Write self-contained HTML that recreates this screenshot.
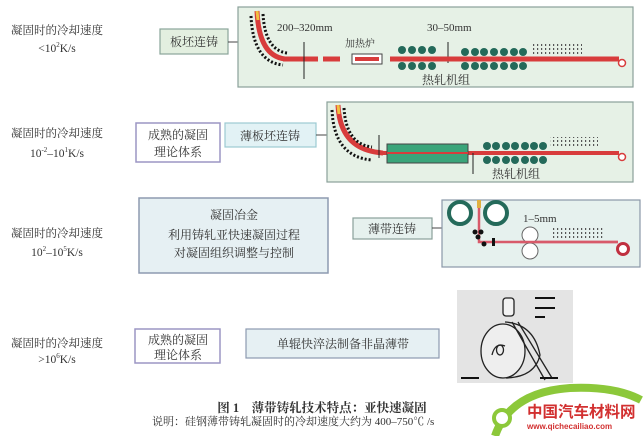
<!DOCTYPE html>
<html><head><meta charset="utf-8"><style>
html,body{margin:0;padding:0;background:#fff;}
svg{display:block;}
text{font-family:"Liberation Serif","Noto Serif CJK SC",serif;fill:#333;}
text.wm{fill:#d23030;font-family:"Liberation Sans","Noto Sans CJK SC",sans-serif;font-weight:bold;}
</style></head><body>
<svg width="643" height="436" viewBox="0 0 643 436" xmlns="http://www.w3.org/2000/svg">
<defs>
<pattern id="hat" width="4" height="4" patternUnits="userSpaceOnUse"><rect x="1" y="0" width="1.2" height="2" fill="#555"/></pattern>
</defs>
<!-- left labels -->
<g font-size="11.5" text-anchor="middle">
<text x="57" y="34">凝固时的冷却速度</text>
<text x="57" y="52">&lt;10<tspan font-size="7" dy="-5">2</tspan><tspan dy="5">K/s</tspan></text>
<text x="57" y="137">凝固时的冷却速度</text>
<text x="57" y="157">10<tspan font-size="7" dy="-5">-2</tspan><tspan dy="5">–10</tspan><tspan font-size="7" dy="-5">1</tspan><tspan dy="5">K/s</tspan></text>
<text x="57" y="237">凝固时的冷却速度</text>
<text x="57" y="256">10<tspan font-size="7" dy="-5">2</tspan><tspan dy="5">–10</tspan><tspan font-size="7" dy="-5">5</tspan><tspan dy="5">K/s</tspan></text>
<text x="57" y="347">凝固时的冷却速度</text>
<text x="57" y="363">&gt;10<tspan font-size="7" dy="-5">6</tspan><tspan dy="5">K/s</tspan></text>
</g>

<!-- Row 1 -->
<rect x="160" y="29" width="68" height="25" fill="#e3efe0" stroke="#8aa59a" stroke-width="1.2"/>
<text x="194" y="46" font-size="12" text-anchor="middle">板坯连铸</text>
<line x1="228" y1="42" x2="238" y2="42" stroke="#444"/>
<rect x="238" y="7" width="395" height="80" fill="#e6f1e6" stroke="#8aa09a" stroke-width="1.2"/>
<path d="M257 11 Q259 56 285 59" fill="none" stroke="#d83c3c" stroke-width="5"/>
<path d="M257 11 L258 20" stroke="#f0c040" stroke-width="3"/>
<path d="M251 16 Q253 62 283 65" fill="none" stroke="#111" stroke-width="3" stroke-dasharray="2 2"/>
<path d="M263 14 Q265 50 287 53" fill="none" stroke="#111" stroke-width="3" stroke-dasharray="2 2"/>
<line x1="283" y1="59" x2="318" y2="59" stroke="#d83c3c" stroke-width="5"/>
<line x1="323" y1="59" x2="340" y2="59" stroke="#d83c3c" stroke-width="5"/>
<rect x="352" y="54" width="30" height="10" fill="#fff" stroke="#444"/>
<line x1="355" y1="59" x2="379" y2="59" stroke="#d83c3c" stroke-width="4"/>
<line x1="304" y1="42" x2="304" y2="79" stroke="#222"/>
<line x1="448" y1="42" x2="448" y2="63" stroke="#222"/>
<text x="277" y="31" font-size="11" font-family="Liberation Sans">200–320mm</text>
<text x="427" y="31" font-size="11" font-family="Liberation Sans">30–50mm</text>
<text x="345" y="47" font-size="10">加热炉</text>
<g fill="#246a5a">
<circle cx="402" cy="50" r="4"/><circle cx="412" cy="50" r="4"/><circle cx="422" cy="50" r="4"/><circle cx="432" cy="50" r="4"/>
<circle cx="402" cy="66" r="4"/><circle cx="412" cy="66" r="4"/><circle cx="422" cy="66" r="4"/><circle cx="432" cy="66" r="4"/>
<circle cx="465" cy="52" r="4"/><circle cx="475" cy="52" r="4"/><circle cx="484" cy="52" r="4"/><circle cx="494" cy="52" r="4"/><circle cx="504" cy="52" r="4"/><circle cx="514" cy="52" r="4"/><circle cx="523" cy="52" r="4"/>
<circle cx="465" cy="66" r="4"/><circle cx="475" cy="66" r="4"/><circle cx="484" cy="66" r="4"/><circle cx="494" cy="66" r="4"/><circle cx="504" cy="66" r="4"/><circle cx="514" cy="66" r="4"/><circle cx="523" cy="66" r="4"/>
</g>
<line x1="390" y1="59" x2="619" y2="59" stroke="#d83c3c" stroke-width="5"/>
<circle cx="622" cy="63" r="3.5" fill="#fff" stroke="#d83c3c" stroke-width="1.5"/>
<rect x="532" y="43" width="50" height="12" fill="url(#hat)"/>
<text x="422" y="84" font-size="12">热轧机组</text>

<!-- Row 2 -->
<rect x="136" y="123" width="84" height="39" fill="#fff" stroke="#9c96c4" stroke-width="1.5"/>
<text x="178" y="139" font-size="12" text-anchor="middle">成熟的凝固</text>
<text x="178" y="156" font-size="12" text-anchor="middle">理论体系</text>
<rect x="225" y="123" width="91" height="24" fill="#e2f2f5" stroke="#9ccad2" stroke-width="1.2"/>
<text x="270" y="140" font-size="12" text-anchor="middle">薄板坯连铸</text>
<line x1="316" y1="135" x2="327" y2="135" stroke="#444"/>
<rect x="327" y="102" width="306" height="80" fill="#e6f1e6" stroke="#8aa09a" stroke-width="1.2"/>
<path d="M338 105 Q340 150 383 153" fill="none" stroke="#d83c3c" stroke-width="5"/>
<path d="M338 105 L339 114" stroke="#f0c040" stroke-width="3"/>
<path d="M332 110 Q334 157 372 160" fill="none" stroke="#111" stroke-width="3" stroke-dasharray="2 2"/>
<path d="M344 108 Q346 144 372 147" fill="none" stroke="#111" stroke-width="3" stroke-dasharray="2 2"/>
<line x1="380" y1="153" x2="619" y2="153" stroke="#d83c3c" stroke-width="4"/>
<circle cx="622" cy="157" r="3.5" fill="#fff" stroke="#d83c3c" stroke-width="1.5"/>
<rect x="387" y="144" width="81" height="19" fill="#3aa57a" stroke="#444"/>
<line x1="387" y1="153" x2="468" y2="153" stroke="#d83c3c" stroke-width="2"/>
<line x1="379" y1="135" x2="379" y2="158" stroke="#222"/>
<line x1="473" y1="153" x2="473" y2="174" stroke="#222"/>
<g fill="#246a5a">
<circle cx="487" cy="146" r="4"/><circle cx="496" cy="146" r="4"/><circle cx="506" cy="146" r="4"/><circle cx="515" cy="146" r="4"/><circle cx="525" cy="146" r="4"/><circle cx="534" cy="146" r="4"/><circle cx="543" cy="146" r="4"/>
<circle cx="487" cy="160" r="4"/><circle cx="496" cy="160" r="4"/><circle cx="506" cy="160" r="4"/><circle cx="515" cy="160" r="4"/><circle cx="525" cy="160" r="4"/><circle cx="534" cy="160" r="4"/><circle cx="543" cy="160" r="4"/>
</g>
<line x1="483" y1="153" x2="547" y2="153" stroke="#d83c3c" stroke-width="4"/>
<rect x="550" y="137" width="48" height="11" fill="url(#hat)"/>
<text x="492" y="178" font-size="12">热轧机组</text>

<!-- Row 3 -->
<rect x="139" y="198" width="189" height="75" fill="#e6f0f3" stroke="#8d9ab0" stroke-width="1.5"/>
<g font-size="12" text-anchor="middle">
<text x="234" y="219">凝固冶金</text>
<text x="234" y="239">利用铸轧亚快速凝固过程</text>
<text x="234" y="257">对凝固组织调整与控制</text>
</g>
<rect x="353" y="218" width="79" height="21" fill="#e6f1ee" stroke="#8aa09a" stroke-width="1.2"/>
<text x="392" y="233" font-size="12" text-anchor="middle">薄带连铸</text>
<line x1="432" y1="228" x2="442" y2="228" stroke="#444"/>
<rect x="442" y="200" width="198" height="67" fill="#e6f1ee" stroke="#8a98a8" stroke-width="1.2"/>
<circle cx="460" cy="213" r="11" fill="#fff" stroke="#246a5a" stroke-width="4"/>
<circle cx="496" cy="213" r="11" fill="#fff" stroke="#246a5a" stroke-width="4"/>
<path d="M479 201 L479 242 L618 242" fill="none" stroke="#d85a6a" stroke-width="2.5"/>
<rect x="477" y="200" width="4" height="8" fill="#e0b040"/>
<circle cx="623" cy="249" r="5.5" fill="#fff" stroke="#c03040" stroke-width="3"/>
<g fill="#111"><circle cx="475" cy="232" r="2.5"/><circle cx="481" cy="232" r="2.5"/><circle cx="478" cy="237" r="2.5"/><circle cx="484" cy="244" r="2.5"/><rect x="492" y="238" width="3" height="8"/></g>
<circle cx="530" cy="235" r="8" fill="#fff" stroke="#666"/>
<circle cx="530" cy="251" r="8" fill="#fff" stroke="#666"/>
<line x1="520" y1="242" x2="618" y2="242" stroke="#d85a6a" stroke-width="2.5"/>
<text x="523" y="222" font-size="11" font-family="Liberation Sans">1–5mm</text>
<rect x="553" y="227" width="50" height="13" fill="url(#hat)"/>

<!-- Row 4 -->
<rect x="135" y="329" width="85" height="34" fill="#fff" stroke="#9c96c4" stroke-width="1.5"/>
<text x="178" y="344" font-size="12" text-anchor="middle">成熟的凝固</text>
<text x="178" y="359" font-size="12" text-anchor="middle">理论体系</text>
<rect x="246" y="329" width="193" height="29" fill="#e6f0f3" stroke="#8d9ab0" stroke-width="1.2"/>
<text x="343" y="348" font-size="12" text-anchor="middle">单辊快淬法制备非晶薄带</text>
<rect x="457" y="290" width="116" height="93" fill="#e4e4e4"/>
<g fill="none" stroke="#222" stroke-width="1.3">
<rect x="503" y="298" width="11" height="18" rx="3" fill="#f2f2f2"/>
<ellipse cx="503" cy="351" rx="22" ry="27" fill="#eee"/>
<path d="M505 322 Q534 324 540 355 Q535 377 506 378"/>
<path d="M512 322 L545 380 M518 322 L552 378"/>
<ellipse cx="500" cy="350" rx="3.5" ry="5"/>
<path d="M492 355 Q495 342 505 346"/>
</g>
<g fill="#111"><rect x="535" y="297" width="20" height="2"/><rect x="535" y="307" width="20" height="2"/><rect x="535" y="316" width="10" height="2"/><rect x="461" y="377" width="18" height="2"/><rect x="540" y="377" width="18" height="2"/></g>

<!-- caption -->
<text x="322" y="412" font-size="12.5" text-anchor="middle" font-weight="bold" font-family="Liberation Sans,'Noto Sans CJK SC',sans-serif" fill="#222">图 1　薄带铸轧技术特点：亚快速凝固</text>
<text x="152" y="425" font-size="11">说明：硅钢薄带铸轧凝固时的冷却速度大约为 400–750℃ /s</text>

<!-- watermark -->
<path d="M495 436 Q510 392 570 388 Q615 386 641 400" fill="none" stroke="#8cc83a" stroke-width="8"/>
<circle cx="502" cy="418" r="8" fill="#fff" stroke="#8cc83a" stroke-width="4"/>
<text class="wm" x="527" y="417" font-size="15.5">中国汽车材料网</text>
<text class="wm" x="527" y="429" font-size="8">www.qichecailiao.com</text>
</svg>
</body></html>
